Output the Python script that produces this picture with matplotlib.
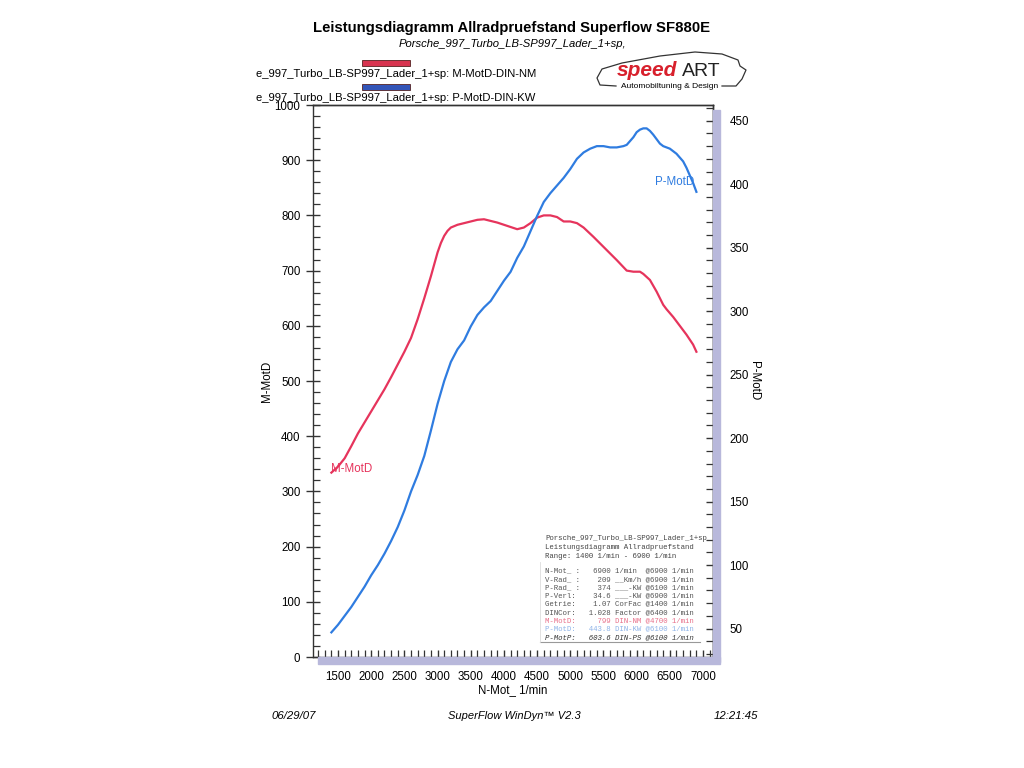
import matplotlib
matplotlib.use("Agg")
import matplotlib.pyplot as plt
from matplotlib.ticker import MultipleLocator
from matplotlib.patches import Rectangle
from matplotlib.lines import Line2D

plt.rcParams["font.family"] = ["Liberation Sans", "DejaVu Sans"]

RED = "#e6345c"
BLUE = "#2f7ce0"
SHADOW = (0.72, 0.72, 0.86)

# torque curve M-MotD (Nm)
rpm_m = [1400, 1500, 1600, 1700, 1800, 1900, 2000, 2100, 2200, 2300, 2400, 2500,
         2600, 2700, 2800, 2900, 3000, 3050, 3100, 3150, 3200, 3300, 3400, 3500,
         3600, 3700, 3800, 3900, 4000, 4100, 4200, 4300, 4400, 4500, 4600, 4700,
         4800, 4900, 5000, 5100, 5200, 5350, 5500, 5600, 5700, 5850, 5950, 6050,
         6100, 6200, 6300, 6400, 6450, 6550, 6600, 6700, 6750, 6800, 6850, 6900]
torque_nm = [334, 345, 360, 382, 405, 425, 445, 465, 485, 507, 530, 553,
             578, 612, 650, 690, 733, 750, 763, 772, 778, 783, 786, 789,
             792, 793, 790, 787, 783, 779, 775, 778, 786, 796, 800, 800,
             797, 789, 789, 786, 778, 761, 743, 731, 719, 700, 698, 698,
             694, 683, 662, 638, 630, 616, 608, 592, 584, 575, 566, 553]

# power curve P-MotD (kW)
rpm_p = [1400, 1500, 1600, 1700, 1800, 1900, 2000, 2100, 2200, 2300, 2400, 2500,
         2600, 2700, 2800, 2900, 3000, 3100, 3200, 3300, 3400, 3500, 3600, 3700,
         3800, 3900, 4000, 4100, 4200, 4300, 4400, 4500, 4600, 4700, 4800, 4900,
         5000, 5100, 5200, 5300, 5400, 5500, 5600, 5700, 5800, 5850, 5950, 6000,
         6050, 6100, 6150, 6200, 6250, 6350, 6400, 6500, 6600, 6700, 6750, 6800,
         6850, 6900]
power_kw = [47, 53, 60, 67, 75, 83, 92, 100, 109, 119, 130, 143,
            158, 171, 186, 206, 227, 245, 260, 270, 277, 288, 297, 303,
            308, 316, 324, 331, 342, 351, 363, 375, 386, 393, 399, 405,
            412, 420, 425, 428, 430, 430, 429, 429, 430, 431, 437, 441,
            443, 444, 444, 442, 439, 432, 430, 428, 424, 418, 413, 407,
            401, 394]

info_head = ["Porsche_997_Turbo_LB-SP997_Lader_1+sp",
             "Leistungsdiagramm Allradpruefstand",
             "Range: 1400 1/min - 6900 1/min"]
info_rows = ["N-Mot_ :   6900 1/min  @6900 1/min",
             "V-Rad_ :    209 __Km/h @6900 1/min",
             "P-Rad_ :    374 ___-KW @6100 1/min",
             "P-Verl:    34.6 ___-KW @6900 1/min",
             "Getrie:    1.07 CorFac @1400 1/min",
             "DINCor:   1.028 Factor @6400 1/min",
             "M-MotD:     799 DIN-NM @4700 1/min",
             "P-MotD:   443.8 DIN-KW @6100 1/min",
             "P-MotP:   603.6 DIN-PS @6100 1/min"]
info_colors = ["#555555"] * 6 + ["#e8708a", "#8fb4e8", "#333333"]

W, H = 1024, 768
fig = plt.figure(figsize=(W / 100, H / 100), dpi=100)


def fx(px):
    return px / W


def fy(py):
    return 1 - py / H


ax = fig.add_axes([fx(313), fy(657), fx(713) - fx(313), fy(105) - fy(657)])
ax2 = ax.twinx()

# shadow strips right and below the plot
fig.patches.append(Rectangle((fx(713), fy(662)), fx(7), fy(110) - fy(662),
                             transform=fig.transFigure, color=SHADOW, zorder=0))
fig.patches.append(Rectangle((fx(318), fy(664)), fx(720) - fx(318), fy(657) - fy(664),
                             transform=fig.transFigure, color=SHADOW, zorder=0))

ax.plot(rpm_m, torque_nm, color=RED, lw=1.6, solid_joinstyle="round")
ax2.plot(rpm_p, power_kw, color=BLUE, lw=1.6, solid_joinstyle="round")

ax.set_xlim(1123, 7150)
ax.set_ylim(0, 1000)
ax2.set_ylim(27.6, 462.4)

ax.xaxis.set_major_locator(MultipleLocator(500))
ax.xaxis.set_minor_locator(MultipleLocator(100))
ax.yaxis.set_major_locator(MultipleLocator(100))
ax.yaxis.set_minor_locator(MultipleLocator(20))
ax2.yaxis.set_major_locator(MultipleLocator(50))
ax2.yaxis.set_minor_locator(MultipleLocator(10))
ax.set_xticks([x for x in range(1500, 7001, 500)])

for a in (ax, ax2):
    a.tick_params(which="major", direction="inout", length=10, width=1.0, labelsize=8.3,
                  color="#333333")
    a.tick_params(which="minor", direction="in", length=5, width=0.9, color="#333333")
    for s in a.spines.values():
        s.set_color("#333333")
        s.set_linewidth(1.0)
ax.tick_params(axis="x", which="major", pad=5)
ax.tick_params(axis="y", which="major", pad=4)
ax2.tick_params(axis="y", which="major", pad=7)
ax2.spines["left"].set_visible(False)
ax2.spines["bottom"].set_visible(False)

ax.set_xlabel("N-Mot_ 1/min", fontsize=8.3, labelpad=1)
ax.set_ylabel("M-MotD", fontsize=8.3, labelpad=1)
ax2.set_ylabel("P-MotD", fontsize=8.3, rotation=270, labelpad=8)

ax.text(1400, 340, "M-MotD", color=RED, fontsize=8.3, va="center", ha="left")
ax2.text(6860, 402, "P-MotD", color=BLUE, fontsize=8.3, va="center", ha="right")

# info table
ty = 539
for line in info_head:
    fig.text(fx(545), fy(ty), line, family="Liberation Mono", fontsize=5.3,
             color="#444444", va="center")
    ty += 8.6
ty = 571
for line, c in zip(info_rows, info_colors):
    style = "italic" if line.startswith("P-MotP") else "normal"
    fig.text(fx(545), fy(ty), line, family="Liberation Mono", fontsize=5.3,
             color=c, va="center", style=style)
    ty += 8.3
fig.lines.append(Line2D([fx(540), fx(700)], [fy(642), fy(642)],
                        transform=fig.transFigure, color="#999999", lw=0.8))
fig.lines.append(Line2D([fx(540), fx(540)], [fy(562), fy(642)],
                        transform=fig.transFigure, color="#dddddd", lw=0.6))

# titles
fig.text(0.5, fy(28), "Leistungsdiagramm Allradpruefstand Superflow SF880E",
         ha="center", va="center", fontsize=10.7, fontweight="bold")
fig.text(0.5, fy(44), "Porsche_997_Turbo_LB-SP997_Lader_1+sp,",
         ha="center", va="center", fontsize=8.1, style="italic")

# legend lines
for yb, col, txt, ty in [(63, "#d83450", "e_997_Turbo_LB-SP997_Lader_1+sp: M-MotD-DIN-NM", 74),
                          (87, "#3355b8", "e_997_Turbo_LB-SP997_Lader_1+sp: P-MotD-DIN-KW", 98)]:
    fig.patches.append(Rectangle((fx(362), fy(yb + 2.5)), fx(48), fy(yb - 2.5) - fy(yb + 2.5),
                                 transform=fig.transFigure, facecolor=col,
                                 edgecolor="#552222", lw=0.6))
    fig.text(fx(256), fy(ty), txt, fontsize=8.1, va="center", ha="left")

# logo
car_x = [616, 600, 597, 602, 622, 660, 695, 722, 738, 740, 746, 742, 736, 722]
car_y = [86, 85, 78, 69, 63, 56, 52, 54, 60, 66, 70, 79, 86, 86]
fig.lines.append(Line2D([fx(v) for v in car_x], [fy(v) for v in car_y],
                        transform=fig.transFigure, color="#333333", lw=0.9,
                        solid_joinstyle="round"))
fig.text(fx(617), fy(76), "speed", color="#d8202c", fontsize=15, fontweight="bold",
         style="italic", va="baseline", ha="left")
fig.text(fx(682), fy(76), "ART", color="#222222", fontsize=14, va="baseline", ha="left")
fig.text(fx(670), fy(86), "Automobiltuning & Design", fontsize=6.0, va="center", ha="center")

# footer
fig.text(fx(271), fy(716), "06/29/07", fontsize=8.2, style="italic", va="center")
fig.text(fx(514), fy(716), "SuperFlow WinDyn\u2122 V2.3", fontsize=8.0, style="italic",
         va="center", ha="center")
fig.text(fx(758), fy(716), "12:21:45", fontsize=8.2, style="italic", va="center", ha="right")

fig.savefig("out.png", dpi=100)
